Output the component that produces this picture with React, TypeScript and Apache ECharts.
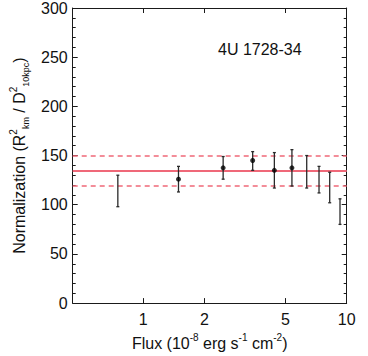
import React, { useEffect, useRef } from "react";
import * as echarts from "echarts";

// Tick values
const xTickValues = [1, 2, 5, 10];
const yMin = 0;
const yMax = 300;
const yInterval = 50;

// Error bars (all measurements)
const barFlux = [0.75, 1.49, 2.47, 3.45, 4.41, 5.38, 6.36, 7.31, 8.25, 9.27];
const barLow = [98, 113, 126, 135, 117, 119, 117, 112, 102, 80];
const barHigh = [130, 139, 149, 154, 153, 156, 150, 139, 133, 106];

// Points with a central value
const pointFlux = [1.49, 2.47, 3.45, 4.41, 5.38];
const pointNorm = [126, 137.5, 145, 135, 137.5];

// Mean and band
const meanNorm = 134.5;
const bandLow = 119.5;
const bandHigh = 150;

const annotation = "4U 1728-34";

export default function App() {
  const ref = useRef<HTMLDivElement>(null);
  useEffect(() => {
    const chart = echarts.init(ref.current!, null, { renderer: "svg" });
    const font = "'Liberation Sans', Arial, Helvetica, sans-serif";
    const axisColor = "#1a1a1a";
    const red = "#ef6878";
    const lineStyle = { color: axisColor, width: 1 };

    const xBase: any = {
      type: "log",
      logBase: 10,
      min: 0.45,
      max: 10,
      axisLine: { show: true, onZero: false, lineStyle },
      axisTick: { show: true, inside: true, length: 5, customValues: xTickValues, lineStyle },
      minorTick: { show: false },
      splitLine: { show: false },
      minorSplitLine: { show: false },
    };
    const yBase: any = {
      type: "value",
      min: yMin,
      max: yMax,
      interval: yInterval,
      axisLine: { show: true, lineStyle },
      axisTick: { show: true, inside: true, length: 5, lineStyle },
      minorTick: { show: true, splitNumber: 5, length: 3, lineStyle },
      splitLine: { show: false },
    };

    const errData = barFlux.map((x, i) => [x, barLow[i], barHigh[i]]);
    const pts = pointFlux.map((x, i) => [x, pointNorm[i]]);

    const option: any = {
      animation: false,
      grid: { left: 72.7, right: 21.3, top: 4.7, bottom: 49.3, containLabel: false },
      textStyle: { fontFamily: font },
      xAxis: [
        {
          ...xBase,
          position: "bottom",
          axisLabel: {
            show: true,
            customValues: xTickValues,
            fontSize: 16,
            color: "#111",
            margin: 8,
            fontFamily: font,
          },
          name: "{b|Flux (10}{sup|-8}{b| erg s}{sup|-1}{b| cm}{sup|-2}{b|)}",
          nameLocation: "middle",
          nameGap: 19,
          nameTextStyle: {
            rich: {
              b: { fontSize: 16, lineHeight: 22, color: "#111", fontFamily: font },
              sup: { fontSize: 10, lineHeight: 12, verticalAlign: "top", color: "#111", fontFamily: font },
            },
          },
        },
        {
          ...xBase,
          position: "top",
          axisLabel: { show: false },
        },
      ],
      yAxis: [
        {
          ...yBase,
          position: "left",
          axisLabel: { show: true, fontSize: 16, color: "#111", margin: 5, fontFamily: font },
          name: "{b|Normalization (R}{sup|2}{sub|km}{b| / D}{sup|2}{sub|10kpc}{b|)}",
          nameLocation: "middle",
          nameRotate: 90,
          nameGap: 32,
          nameTextStyle: {
            rich: {
              b: { fontSize: 16, lineHeight: 22, color: "#111", fontFamily: font },
              sup: { fontSize: 10, lineHeight: 12, verticalAlign: "top", color: "#111", fontFamily: font },
              sub: { fontSize: 9, lineHeight: 10, verticalAlign: "bottom", color: "#111", fontFamily: font },
            },
          },
        },
        {
          ...yBase,
          position: "right",
          axisLabel: { show: false },
        },
      ],
      series: [
        {
          type: "line",
          data: [],
          z: 2,
          silent: true,
          markLine: {
            silent: true,
            symbol: "none",
            label: { show: false },
            data: [
              { yAxis: meanNorm, lineStyle: { color: red, width: 2, type: "solid" } },
              { yAxis: bandHigh, lineStyle: { color: red, width: 1.6, type: [5, 4] } },
              { yAxis: bandLow, lineStyle: { color: red, width: 1.6, type: [5, 4] } },
            ],
          },
        },
        {
          type: "custom",
          z: 5,
          data: errData,
          renderItem: (params: any, api: any) => {
            const x = api.value(0);
            const lo = api.coord([x, api.value(1)]);
            const hi = api.coord([x, api.value(2)]);
            const cw = 1.5;
            const st = { stroke: "#2a2a2a", lineWidth: 1.3 };
            return {
              type: "group",
              children: [
                { type: "line", shape: { x1: lo[0], y1: lo[1], x2: hi[0], y2: hi[1] }, style: st },
                { type: "line", shape: { x1: lo[0] - cw, y1: lo[1], x2: lo[0] + cw, y2: lo[1] }, style: st },
                { type: "line", shape: { x1: hi[0] - cw, y1: hi[1], x2: hi[0] + cw, y2: hi[1] }, style: st },
              ],
            };
          },
        },
        {
          type: "scatter",
          z: 6,
          data: pts,
          symbol: "circle",
          symbolSize: 5,
          itemStyle: { color: "#000" },
        },
      ],
      graphic: [
        {
          type: "text",
          left: 218,
          top: 41,
          style: { text: annotation, fontSize: 16, fill: "#111", fontFamily: font },
        },
      ],
    };
    chart.setOption(option);
    return () => chart.dispose();
  }, []);
  return (
    <div
      ref={ref}
      style={{ position: "fixed", left: 0, top: 0, width: 368, height: 356, background: "#fff" }}
    />
  );
}
